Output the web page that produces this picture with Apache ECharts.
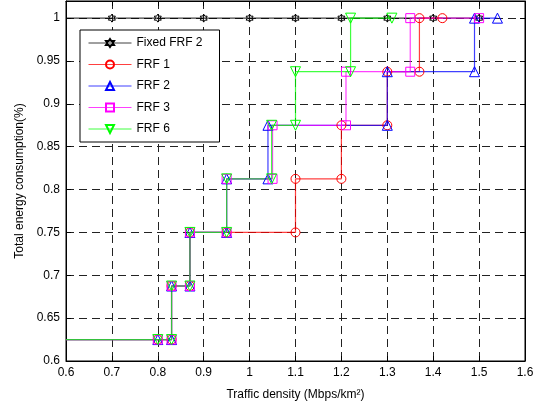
<!DOCTYPE html>
<html>
<head>
<meta charset="utf-8">
<script src="https://cdn.jsdelivr.net/npm/echarts@6/dist/echarts.min.js"></script>
<style>
html,body{margin:0;padding:0;background:#fff;}
#c{width:551px;height:409px;}
</style>
</head>
<body>
<div id="c"></div>
<script>
// ---- data ----
const seriesNames = ['Fixed FRF 2', 'FRF 1', 'FRF 2', 'FRF 3', 'FRF 6'];
const xTicks = [0.6, 0.7, 0.8, 0.9, 1.0, 1.1, 1.2, 1.3, 1.4, 1.5, 1.6];
const yTicks = [0.6, 0.65, 0.7, 0.75, 0.8, 0.85, 0.9, 0.95, 1];

const fixedX = [0.6, 0.7, 0.8, 0.9, 1.0, 1.1, 1.2, 1.3, 1.4, 1.5];
const fixedY = [1, 1, 1, 1, 1, 1, 1, 1, 1, 1];

const frf1X = [0.6, 0.8, 0.83, 0.83, 0.87, 0.87, 0.95, 1.1, 1.1, 1.2, 1.2, 1.3, 1.3, 1.37, 1.37, 1.42];
const frf1Y = [0.625, 0.625, 0.625, 0.6875, 0.6875, 0.75, 0.75, 0.75, 0.8125, 0.8125, 0.875, 0.875, 0.9375, 0.9375, 1, 1];

const frf2X = [0.6, 0.8, 0.83, 0.83, 0.87, 0.87, 0.95, 0.95, 1.04, 1.04, 1.3, 1.3, 1.49, 1.49, 1.54];
const frf2Y = [0.625, 0.625, 0.625, 0.6875, 0.6875, 0.75, 0.75, 0.8125, 0.8125, 0.875, 0.875, 0.9375, 0.9375, 1, 1];

const frf3X = [0.6, 0.8, 0.83, 0.83, 0.87, 0.87, 0.95, 0.95, 1.05, 1.05, 1.21, 1.21, 1.35, 1.35, 1.5];
const frf3Y = [0.625, 0.625, 0.625, 0.6875, 0.6875, 0.75, 0.75, 0.8125, 0.8125, 0.875, 0.875, 0.9375, 0.9375, 1, 1];

const frf6X = [0.6, 0.8, 0.83, 0.83, 0.87, 0.87, 0.95, 0.95, 1.048, 1.048, 1.1, 1.1, 1.22, 1.22, 1.31];
const frf6Y = [0.625, 0.625, 0.625, 0.6875, 0.6875, 0.75, 0.75, 0.8125, 0.8125, 0.875, 0.875, 0.9375, 0.9375, 1, 1];

// ---- styling ----
const FONT = '"Liberation Sans", Arial, Helvetica, sans-serif';
const hexagram = 'path://M0,-10 L2.887,-5 L8.66,-5 L5.774,0 L8.66,5 L2.887,5 L0,10 L-2.887,5 L-8.66,5 L-5.774,0 L-8.66,-5 L-2.887,-5 Z';

function build(xs, ys) {
  return xs.map((x, i) => i === 0 ? {value: [x, ys[i]], symbol: 'none'} : [x, ys[i]]);
}

function mk(name, xs, ys, color, symbol, size, rotate) {
  return {
    name: name,
    type: 'line',
    data: build(xs, ys),
    symbol: symbol,
    symbolSize: size,
    symbolRotate: rotate || 0,
    symbolKeepAspect: true,
    showAllSymbol: true,
    animation: false,
    clip: false,
    lineStyle: {color: color, width: 1.2, opacity: 0.75},
    itemStyle: {color: 'rgba(0,0,0,0)', borderColor: color, borderWidth: 1},
    emphasis: {disabled: true}
  };
}

const chart = echarts.init(document.getElementById('c'), null, {renderer: 'canvas'});
chart.setOption({
  backgroundColor: '#fff',
  animation: false,
  textStyle: {fontFamily: FONT},
  grid: {left: 66, right: 26, top: 1, bottom: 48, show: true, borderColor: '#000', borderWidth: 1, containLabel: false},
  legend: {
    orient: 'vertical',
    left: 80, top: 30,
    padding: [7, 17, 7, 8],
    backgroundColor: '#fff',
    borderColor: '#000',
    borderWidth: 1,
    itemWidth: 43,
    itemHeight: 10,
    itemGap: 9.5,
    lineStyle: {width: 1},
    textStyle: {fontSize: 12, color: '#000', fontFamily: FONT},
    data: seriesNames
  },
  xAxis: [{
    type: 'value',
    min: xTicks[0], max: xTicks[xTicks.length - 1], interval: 0.1,
    position: 'bottom',
    name: 'Traffic density (Mbps/km²)',
    nameLocation: 'middle',
    nameGap: 28,
    nameTextStyle: {fontSize: 12, color: '#000', fontFamily: FONT},
    axisLine: {show: true, lineStyle: {color: '#000', width: 1}},
    axisTick: {show: true, inside: true, length: 5, lineStyle: {color: '#000'}},
    axisLabel: {color: '#000', fontSize: 12, margin: 6, fontFamily: FONT, formatter: v => String(+v.toFixed(2))},
    splitLine: {show: true, lineStyle: {color: '#222', type: [8, 5], width: 1}}
  }, {
    type: 'value',
    min: xTicks[0], max: xTicks[xTicks.length - 1], interval: 0.1,
    position: 'top',
    axisLine: {show: true, lineStyle: {color: '#000', width: 1}},
    axisTick: {show: true, inside: true, length: 5, lineStyle: {color: '#000'}},
    axisLabel: {show: false},
    splitLine: {show: false}
  }],
  yAxis: [{
    type: 'value',
    min: yTicks[0], max: 1.02, interval: 0.05,
    position: 'left',
    name: 'Total energy consumption(%)',
    nameLocation: 'middle',
    nameGap: 38,
    nameTextStyle: {fontSize: 12, color: '#000', fontFamily: FONT},
    axisLine: {show: true, lineStyle: {color: '#000', width: 1}},
    axisTick: {show: true, inside: true, length: 5, lineStyle: {color: '#000'}},
    axisLabel: {color: '#000', fontSize: 12, margin: 6, fontFamily: FONT, showMaxLabel: false,
      formatter: v => String(+v.toFixed(2))},
    splitLine: {show: true, lineStyle: {color: '#222', type: [8, 5], width: 1}}
  }, {
    type: 'value',
    min: yTicks[0], max: 1.02, interval: 0.05,
    position: 'right',
    axisLine: {show: true, lineStyle: {color: '#000', width: 1}},
    axisTick: {show: true, inside: true, length: 5, lineStyle: {color: '#000'}},
    axisLabel: {show: false},
    splitLine: {show: false}
  }],
  series: [
    mk(seriesNames[0], fixedX, fixedY, '#000000', hexagram, 8),
    mk(seriesNames[1], frf1X, frf1Y, '#ff0000', 'circle', 9),
    mk(seriesNames[2], frf2X, frf2Y, '#0000ff', 'triangle', 10),
    mk(seriesNames[3], frf3X, frf3Y, '#ff00ff', 'rect', 9),
    mk(seriesNames[4], frf6X, frf6Y, '#00ff00', 'triangle', 10, 180)
  ]
});
</script>
</body>
</html>
